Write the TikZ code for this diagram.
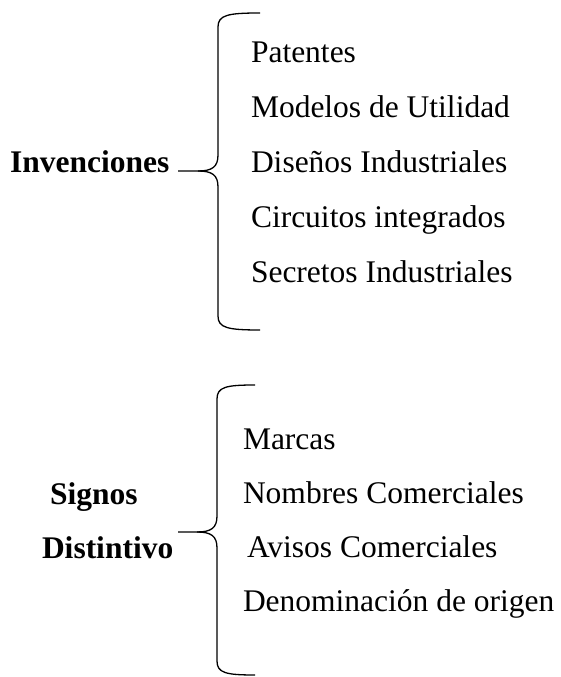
\documentclass[tikz,border=0pt]{standalone}
\usepackage{fontspec}
\setmainfont{Liberation Serif}
\usetikzlibrary{%
    positioning
}
\tikzset{
    every node/.style = {
        inner sep=0pt, outer sep=0pt,
        font=\fontsize{31.5}{36}\selectfont,
    },
    head/.style = {font=\fontsize{31.5}{36}\selectfont\bfseries},
    brace line/.style = {draw=black, line width=1.3pt},
}

\begin{document}
\begin{tikzpicture}[x=1pt, y=1pt]
    \useasboundingbox (0, 0) rectangle (561, 677);
    % first group
    \node[head, anchor=base west] (invenciones) at (10, 504) {Invenciones};
    \node[anchor=base west] (patentes) at (251, 614) {Patentes};
    \node[
        below=55pt of patentes.base west,
        anchor=base west
    ] (modelos) {Modelos de Utilidad};
    \node[
        below=55pt of modelos.base west,
        anchor=base west
    ] (disenos) {Diseños Industriales};
    \node[
        below=55pt of disenos.base west,
        anchor=base west
    ] (circuitos) {Circuitos integrados};
    \node[
        below=55pt of circuitos.base west,
        anchor=base west
    ] (secretos) {Secretos Industriales};
    \coordinate (top1) at (260, 664);
    \coordinate (bot1) at (260, 347);
    \coordinate (cusp1) at (198, 506);
    \coordinate (tip1) at (178, 506);
    \draw[brace line] (top1) .. controls (228, 664) and (218, 662) .. (218, 650)
        -- (218, 522) .. controls (218, 510) and (212, 506) .. (cusp1) -- (tip1);
    \draw[brace line] (cusp1) .. controls (212, 506) and (218, 502) .. (218, 490)
        -- (218, 361) .. controls (218, 349) and (228, 347) .. (bot1);
    % second group
    \node[head, anchor=base west] (signos) at (50, 172) {Signos};
    \node[head, anchor=base west] (distintivo) at (42, 118) {Distintivo};
    \node[anchor=base west] (marcas) at (243, 227) {Marcas};
    \node[
        below=54pt of marcas.base west,
        anchor=base west
    ] (nombres) {Nombres Comerciales};
    \node[
        below=54pt of nombres.base west,
        anchor=base west,
        xshift=4pt
    ] (avisos) {Avisos Comerciales};
    \node[
        below=162pt of marcas.base west,
        anchor=base west
    ] (denominacion) {Denominación de origen};
    \coordinate (top2) at (255, 292);
    \coordinate (bot2) at (255, 2);
    \coordinate (cusp2) at (197, 145);
    \coordinate (tip2) at (178, 145);
    \draw[brace line] (top2) .. controls (226, 292) and (217, 290) .. (217, 278)
        -- (217, 161) .. controls (217, 149) and (211, 145) .. (cusp2) -- (tip2);
    \draw[brace line] (cusp2) .. controls (211, 145) and (217, 141) .. (217, 129)
        -- (217, 16) .. controls (217, 4) and (226, 2) .. (bot2);
\end{tikzpicture}
\end{document}
